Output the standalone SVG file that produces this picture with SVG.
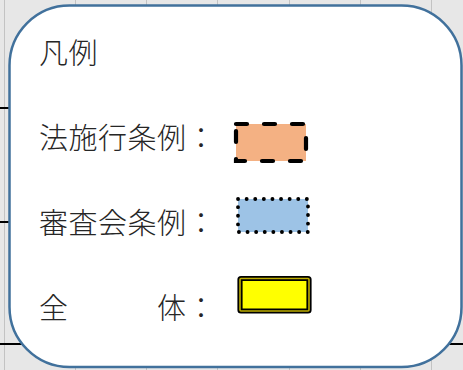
<svg xmlns="http://www.w3.org/2000/svg" width="463" height="370" viewBox="0 0 463 370">
  <style>
    .grid { stroke: #c3c3c3; stroke-width: 1; }
    .rule { stroke: #000; stroke-width: 2; }
    .lbl { font-family: "Noto Sans CJK JP", "Noto Sans", sans-serif; font-size: 29px; font-weight: 300; letter-spacing: 0.5px; fill: #262626; }
  </style>
  <g id="background">
    <rect x="0" y="0" width="463" height="370" fill="#e7e7e7"/>
    <line class="grid" x1="4.5" y1="0" x2="4.5" y2="370"/>
    <line class="grid" x1="75.5" y1="0" x2="75.5" y2="370"/>
    <line class="grid" x1="146.5" y1="0" x2="146.5" y2="370"/>
    <line class="grid" x1="217.5" y1="0" x2="217.5" y2="370"/>
    <line class="grid" x1="289.5" y1="0" x2="289.5" y2="370"/>
    <line class="grid" x1="360.5" y1="0" x2="360.5" y2="370"/>
    <line class="grid" x1="431.5" y1="0" x2="431.5" y2="370"/>
    <line class="rule" x1="0" y1="108" x2="20" y2="108"/>
    <line class="rule" x1="0" y1="222" x2="20" y2="222"/>
    <line class="rule" x1="0" y1="344" x2="463" y2="344"/>
  </g>
  <g id="legend-box">
    <rect x="9.5" y="5.5" width="452" height="361.5" rx="60" ry="60" fill="#fff" stroke="#41719c" stroke-width="2.5"/>
    <text class="lbl" x="39" y="64">凡例</text>
  </g>
  <g id="item-law">
    <text class="lbl" x="39" y="149">法施行条例：</text>
    <rect x="236" y="124" width="70" height="37" fill="#f4b183"/>
    <rect x="236" y="124" width="70" height="37" fill="none" stroke="#000" stroke-width="4.2" stroke-linecap="round" stroke-dasharray="11 17"/>
  </g>
  <g id="item-council">
    <text class="lbl" x="39" y="234">審査会条例：</text>
    <rect x="238" y="199" width="70" height="33" fill="#9dc3e6"/>
    <rect x="238" y="199" width="70" height="33" fill="none" stroke="#000" stroke-width="3.8" stroke-linecap="round" stroke-dasharray="0.1 8.5"/>
  </g>
  <g id="item-all">
    <text class="lbl" x="39" y="319">全　　　体：</text>
    <rect x="240" y="278.5" width="69" height="32.5" rx="1" fill="#ffff00" stroke="#000" stroke-width="5.2"/>
    <rect x="240" y="278.5" width="69" height="32.5" rx="1" fill="none" stroke="#bfae00" stroke-width="1.6"/>
  </g>
</svg>
